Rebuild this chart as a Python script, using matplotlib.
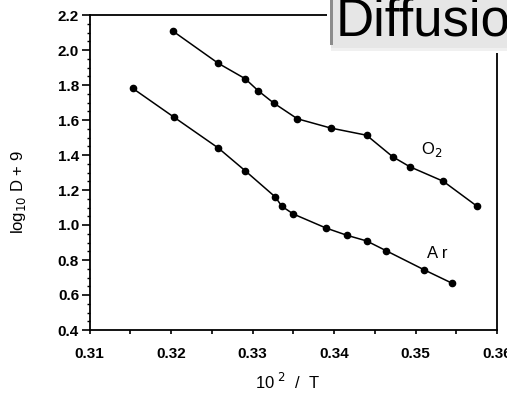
import matplotlib
matplotlib.use("Agg")
import matplotlib.pyplot as plt
from matplotlib.patches import Rectangle
from matplotlib.ticker import MultipleLocator

# Data
o2_x = [0.3202, 0.3258, 0.3291, 0.3307, 0.3326, 0.3355, 0.3396, 0.3440, 0.3472, 0.3493, 0.3534, 0.3575]
o2_y = [2.109, 1.924, 1.836, 1.767, 1.697, 1.607, 1.554, 1.513, 1.390, 1.333, 1.250, 1.109]
ar_x = [0.3153, 0.3204, 0.3258, 0.3291, 0.3328, 0.3336, 0.3350, 0.3390, 0.3416, 0.3440, 0.3464, 0.3511, 0.3545]
ar_y = [1.781, 1.615, 1.440, 1.310, 1.160, 1.107, 1.063, 0.983, 0.941, 0.909, 0.853, 0.743, 0.667]
xticks = [0.31, 0.32, 0.33, 0.34, 0.35, 0.36]
yticks = [0.4, 0.6, 0.8, 1.0, 1.2, 1.4, 1.6, 1.8, 2.0, 2.2]

plt.rcParams['font.family'] = ['Liberation Sans', 'DejaVu Sans']

W, H = 507, 394
fig = plt.figure(figsize=(W / 100, H / 100), dpi=100)
ax = fig.add_axes([89.5 / W, 1 - 330 / H, (497 - 89.5) / W, (330 - 15) / H])

for xs, ys in [(o2_x, o2_y), (ar_x, ar_y)]:
    ax.plot(xs, ys, color='black', lw=1.1, marker='o', ms=4.5, mfc='black', mec='black')

ax.set_xlim(0.31, 0.36)
ax.set_ylim(0.4, 2.2)
ax.set_xticks(xticks)
ax.set_xticklabels([f"{v:.2f}" for v in xticks], fontweight='bold')
ax.set_yticks(yticks)
ax.set_yticklabels([f"{v:.1f}" for v in yticks], fontweight='bold')
ax.xaxis.set_minor_locator(MultipleLocator(0.005))
ax.yaxis.set_minor_locator(MultipleLocator(0.05))
ax.tick_params(axis='x', which='both', direction='out', length=3, width=1.2, pad=9, labelsize=11)
ax.tick_params(axis='y', which='major', direction='out', length=5.5, width=1.2, pad=2, labelsize=11)
ax.tick_params(axis='y', which='minor', direction='out', length=2, width=1.0)
for s in ax.spines.values():
    s.set_linewidth(1.3)

ax.text(0.3520, 1.43, "O$_2$", fontsize=12, ha='center', va='center')
ax.text(0.3527, 0.84, "A r", fontsize=12, ha='center', va='center')

fig.text(19 / W, 1 - 192 / H, "log$_{10}$ D + 9", rotation=90, ha='center', va='center', fontsize=12)
fig.text(288 / W, 1 - 382 / H, "10$^{\\ 2}$  /  T", ha='center', va='center', fontsize=12)

# "Diffusion" title box overlapping top-right corner
fig.patches.append(Rectangle((327 / W, 1 - 53 / H), (W - 327) / W, 53 / H,
                             transform=fig.transFigure, facecolor='white', edgecolor='none', zorder=10))
fig.patches.append(Rectangle((331 / W, 1 - 51 / H), (W - 331) / W, 51 / H,
                             transform=fig.transFigure, facecolor='#f0f0f0', edgecolor='none', zorder=11))
fig.patches.append(Rectangle((331 / W, 1 - 48 / H), (W - 331) / W, 48 / H,
                             transform=fig.transFigure, facecolor='#e6e6e6', edgecolor='none', zorder=12))
fig.patches.append(Rectangle((329.5 / W, 1 - 45 / H), 3 / W, 45 / H,
                             transform=fig.transFigure, facecolor='#8c8c8c', edgecolor='none', zorder=13))
fig.text(336 / W, 1 - 36 / H, "Diffusion", fontsize=38, ha='left', va='baseline', color='black', zorder=14)

fig.savefig("out.png", dpi=100)
